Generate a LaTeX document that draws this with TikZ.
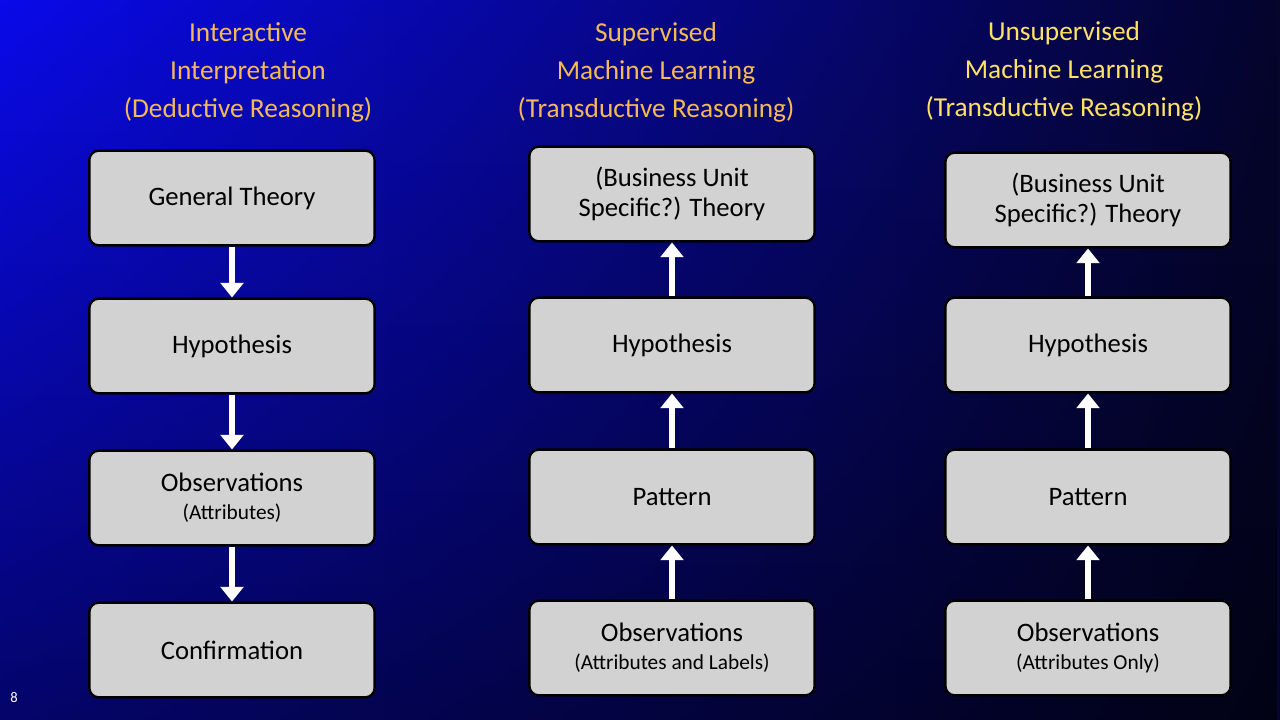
\documentclass[tikz,border=0pt]{standalone}
\usepackage{fontspec}
\setmainfont{Carlito}
\usetikzlibrary{arrows.meta,fadings}
\definecolor{ttl}{RGB}{245,185,85}
\definecolor{ttly}{RGB}{255,225,100}
\definecolor{boxg}{RGB}{210,210,210}
\newcommand{\subtxt}{\fontsize{16}{18}\selectfont}
\begin{document}
\begin{tikzpicture}[x=0.75pt,y=-0.75pt,
  bx/.style={draw=black,line width=1.8pt,fill=boxg,rounded corners=7pt,minimum width=214pt,minimum height=71pt,align=center,font=\fontsize{20}{23}\selectfont,inner sep=0pt},
  tt/.style={align=center,font=\fontsize{20.5}{28.5}\selectfont,text=ttl},
  ar/.style={draw=white,line width=4.5pt,-{Triangle[width=17pt,length=11pt]}}]
\useasboundingbox (0,0) rectangle (1280,720);
\shade[left color={rgb,255:red,10;green,10;blue,235}, right color={rgb,255:red,5;green,5;blue,45}] (0,0) rectangle (1280,720);
\fill[black,opacity=0.55,path fading=north] (0,0) rectangle (1280,720);
\node[tt] (t1) at (248,72) {Interactive\\Interpretation\\(Deductive Reasoning)};
\node[tt] (t2) at (656,72) {Supervised\\Machine Learning\\(Transductive Reasoning)};
\node[tt,text=ttly] (t3) at (1064,71) {Unsupervised\\Machine Learning\\(Transductive Reasoning)};
% column 1
\node[bx] (a1) at (232,198) {General Theory};
\node[bx] (a2) at (232,346) {Hypothesis};
\node[bx] (a3) at (232,498) {Observations\\[-2pt]{\subtxt (Attributes)}};
\node[bx] (a4) at (232,650) {Confirmation};
% column 2
\node[bx] (b1) at (672,194) {(Business Unit\\Specific?) Theory};
\node[bx] (b2) at (672,345) {Hypothesis};
\node[bx] (b3) at (672,497) {Pattern};
\node[bx] (b4) at (672,648) {Observations\\[-2pt]{\subtxt (Attributes and Labels)}};
% column 3
\node[bx] (c1) at (1088,200) {(Business Unit\\Specific?) Theory};
\node[bx] (c2) at (1088,345) {Hypothesis};
\node[bx] (c3) at (1088,497) {Pattern};
\node[bx] (c4) at (1088,648) {Observations\\[-2pt]{\subtxt (Attributes Only)}};
\draw[ar] (a1) -- (a2);
\draw[ar] (a2) -- (a3);
\draw[ar] (a3) -- (a4);
\draw[ar] (b2) -- (b1);
\draw[ar] (b3) -- (b2);
\draw[ar] (b4) -- (b3);
\draw[ar] (c2) -- (c1);
\draw[ar] (c3) -- (c2);
\draw[ar] (c4) -- (c3);
\node[text=white,font=\fontsize{11}{12}\selectfont] (pg) at (14,698) {8};
\end{tikzpicture}
\end{document}
